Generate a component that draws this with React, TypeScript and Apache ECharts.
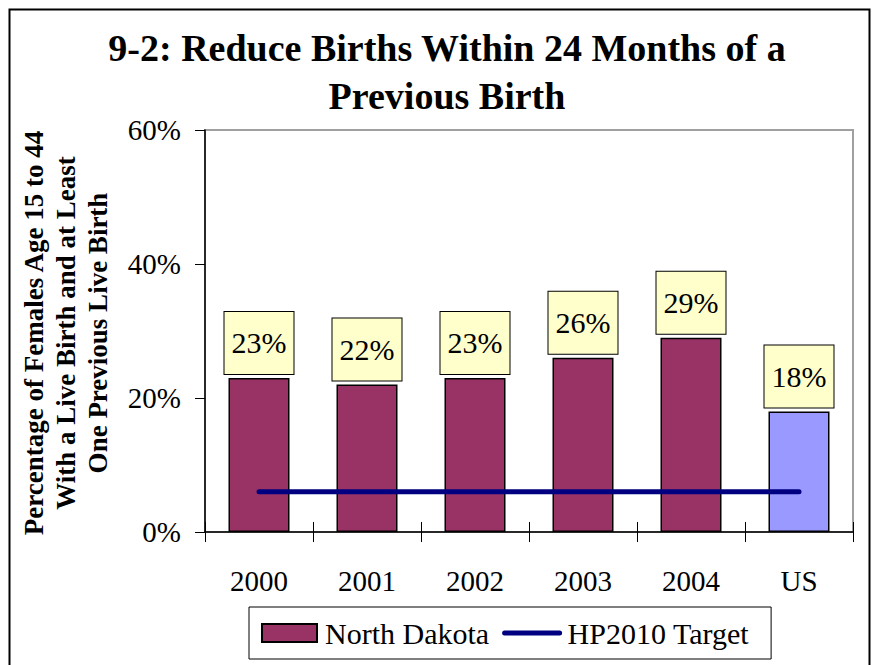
import React, { useEffect, useRef } from "react";
import * as echarts from "echarts";

const categories = ["2000", "2001", "2002", "2003", "2004", "US"];
const northDakota = [23, 22, 23, 26, 29, 18];
const target = [6, 6, 6, 6, 6, 6];
const yTicks = [0, 20, 40, 60];
const titleText = "9-2: Reduce Births Within 24 Months of a\nPrevious Birth";
const yAxisTitle = "Percentage of Females Age 15 to 44\nWith a Live Birth and at Least\nOne Previous Live Birth";

const SERIF = "'Liberation Serif', 'Times New Roman', serif";

export default function App() {
  const ref = useRef<HTMLDivElement>(null);
  useEffect(() => {
    document.body.style.margin = "0";
    const chart = echarts.init(ref.current!, null, { renderer: "svg" });
    const barData = northDakota.map((v, i) =>
      categories[i] === "US"
        ? { value: v, itemStyle: { color: "#9999FF" } }
        : { value: v }
    );
    chart.setOption({
      animation: false,
      backgroundColor: "#ffffff",
      title: {
        text: titleText,
        left: 442,
        textAlign: "center",
        top: 19,
        textStyle: {
          fontFamily: SERIF,
          fontWeight: "bold",
          fontSize: 38,
          lineHeight: 48,
          color: "#000",
        },
      },
      grid: {
        left: 205,
        top: 130,
        width: 648,
        height: 402,
        show: true,
        borderColor: "#a0a0a0",
        borderWidth: 2,
        backgroundColor: "transparent",
      },
      legend: {
        left: 249,
        top: 607,
        orient: "horizontal",
        borderColor: "#000",
        borderWidth: 1,
        padding: [11, 22, 11, 12],
        itemWidth: 55,
        itemHeight: 18,
        itemGap: 13,
        textStyle: {
          fontFamily: SERIF,
          fontSize: 30,
          color: "#000",
          padding: [0, 0, 0, 3],
        },
        data: [
          { name: "North Dakota", icon: "rect" },
          { name: "HP2010 Target", itemStyle: { opacity: 0 }, lineStyle: { width: 5, color: "#000080", cap: "round" } },
        ],
      },
      xAxis: [
        {
          type: "category",
          data: categories,
          position: "bottom",
          axisLine: { show: true, lineStyle: { color: "#000", width: 1.5 } },
          axisTick: { show: true, inside: false, length: 10, alignWithLabel: false, lineStyle: { color: "#000" } },
          axisLabel: { fontFamily: SERIF, fontSize: 29, color: "#000", margin: 34 },
        },
        {
          type: "category",
          data: categories,
          position: "bottom",
          axisLine: { show: false },
          axisTick: { show: true, inside: true, length: 10, lineStyle: { color: "#000" } },
          axisLabel: { show: false },
        },
      ],
      yAxis: {
        type: "value",
        min: 0,
        max: 60,
        interval: 20,
        axisLine: { show: true, lineStyle: { color: "#000", width: 1.5 } },
        axisTick: { show: true, inside: false, length: 10, lineStyle: { color: "#000" } },
        splitLine: { show: false },
        axisLabel: {
          fontFamily: SERIF,
          fontSize: 29,
          color: "#000",
          margin: 24,
          formatter: (v: number) => (yTicks.includes(v) ? v + "%" : ""),
        },
      },
      series: [
        {
          name: "North Dakota",
          type: "bar",
          data: barData,
          barWidth: 61,
          itemStyle: { color: "#993366", borderColor: "#000", borderWidth: 1.5 },
          label: {
            show: true,
            position: "top",
            distance: 4,
            formatter: (p: any) => p.value + "%",
            fontFamily: SERIF,
            fontSize: 30,
            lineHeight: 30,
            color: "#000",
            backgroundColor: "#FFFFCC",
            borderColor: "#000",
            borderWidth: 1,
            padding: [16, 7, 16, 7],
          },
          z: 2,
        },
        {
          name: "HP2010 Target",
          type: "line",
          data: target,
          symbol: "none",
          showSymbol: false,
          lineStyle: { color: "#000080", width: 5, cap: "round" },
          itemStyle: { color: "#000080" },
          z: 3,
        },
      ],
      graphic: [
        {
          type: "text",
          x: 66,
          y: 333,
          rotation: Math.PI / 2,
          style: {
            text: yAxisTitle,
            fontFamily: SERIF,
            fontWeight: "bold",
            fontSize: 27,
            lineHeight: 32,
            fill: "#000",
            align: "center",
            verticalAlign: "middle",
          },
        },
        {
          type: "rect",
          shape: { x: 9.5, y: 9.5, width: 860, height: 700 },
          style: { fill: "none", stroke: "#000", lineWidth: 2 },
          silent: true,
        },
      ],
    });
    return () => chart.dispose();
  }, []);
  return <div ref={ref} style={{ width: 874, height: 665 }} />;
}
